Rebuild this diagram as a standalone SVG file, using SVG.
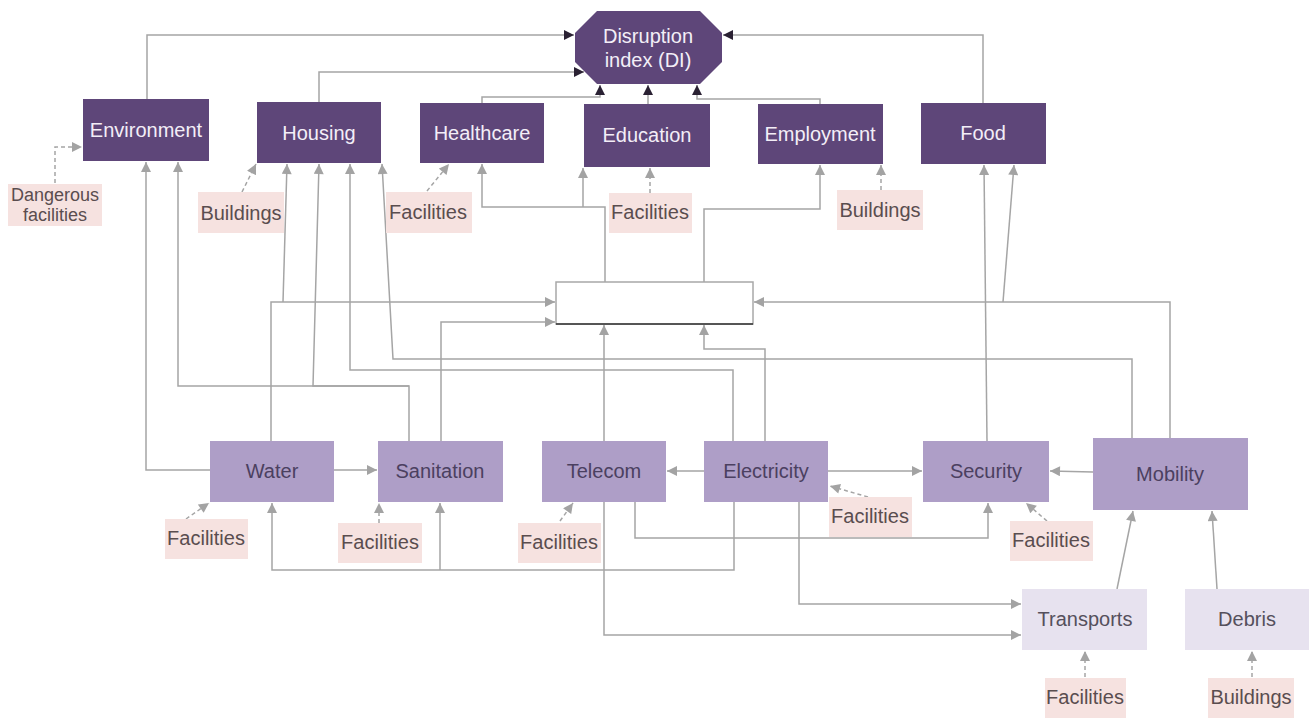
<svg xmlns="http://www.w3.org/2000/svg" width="1310" height="718" viewBox="0 0 1310 718">
<style>
text{font-family:"Liberation Sans",Arial,sans-serif;text-anchor:middle}
.dk rect,.dk polygon{fill:#5e4679}
.dk text{fill:#f3eef7;font-size:20px}
.lt rect{fill:#ae9ec7}
.lt text{fill:#4b4060;font-size:20px}
.vl rect{fill:#e7e2ef}
.vl text{fill:#55505c;font-size:20px}
.pk rect{fill:#f6e2e0}
.pk text{fill:#5a4d4f;font-size:20px}
.pk text.sm{font-size:18px}
.c path{fill:none;stroke:#a5a5a5;stroke-width:1.5}
.c path.a{marker-end:url(#ag)}
.c path.d{marker-end:url(#ad)}
.c path.s{stroke-dasharray:4 3;marker-end:url(#ag)}
</style>
<defs>
<marker id="ag" viewBox="0 0 10 10" refX="10" refY="5" markerWidth="11" markerHeight="10" markerUnits="userSpaceOnUse" orient="auto"><path d="M0,0 L10,5 L0,10 z" fill="#a3a3a3"/></marker>
<marker id="ad" viewBox="0 0 10 10" refX="10" refY="5" markerWidth="11" markerHeight="10" markerUnits="userSpaceOnUse" orient="auto"><path d="M0,0 L10,5 L0,10 z" fill="#2a2133"/></marker>
</defs>
<rect width="1310" height="718" fill="#ffffff"/>

<g id="connectors" class="c">
<path class="d" d="M147,99 V35 H574"/>
<path class="d" d="M319,102 V72 H584"/>
<path class="d" d="M482,103 V97 H600 V85"/>
<path class="d" d="M648,104 V85"/>
<path class="d" d="M820,104 V99 H697 V85"/>
<path class="d" d="M983,103 V35 H723"/>
<path class="a" d="M210,470 H146 V162"/>
<path class="a" d="M409,441 V386 H178 V162"/>
<path class="a" d="M271,441 V302 H555"/>
<path class="a" d="M283,302 L287,164"/>
<path class="a" d="M409,386 H313 L319,164"/>
<path class="a" d="M733,441 V370 H350 V164"/>
<path class="a" d="M1132,438 V359 H393 L382,164"/>
<path class="a" d="M605,282 V207 H482 V164"/>
<path class="a" d="M583,207 V168"/>
<path class="a" d="M704,282 V209 H820 V165"/>
<path class="a" d="M987,441 L984,165"/>
<path class="a" d="M1170,438 V302 H754"/>
<path class="a" d="M1003,302 L1014,165"/>
<path class="a" d="M604,441 V325"/>
<path class="a" d="M765,441 V349 H704 V325"/>
<path class="a" d="M441,441 V322 H555"/>
<path class="a" d="M334,470 H377"/>
<path class="a" d="M704,471 H667"/>
<path class="a" d="M828,471 H922"/>
<path class="a" d="M1093,472 L1050,471"/>
<path class="a" d="M734,502 V570 H272 V503"/>
<path class="a" d="M440,570 V503"/>
<path class="a" d="M635,502 V538 H988 V503"/>
<path class="a" d="M799,502 V604 H1021"/>
<path class="a" d="M604,502 V635 H1021"/>
<path class="a" d="M1117,589 L1133,511"/>
<path class="a" d="M1217,589 L1212,511"/>
<path class="s" d="M55,183 V147 H82"/>
<path class="s" d="M242,192 L256,164"/>
<path class="s" d="M427,191 L449,164"/>
<path class="s" d="M650,193 V168"/>
<path class="s" d="M881,190 V165"/>
<path class="s" d="M186,519 L209,503"/>
<path class="s" d="M379,523 V503"/>
<path class="s" d="M560,521 L573,503"/>
<path class="s" d="M868,497 L830,486"/>
<path class="s" d="M1047,521 L1026,503"/>
<path class="s" d="M1085,677 V651"/>
<path class="s" d="M1252,677 V651"/>
</g>

<g id="central">
<rect x="556" y="282" width="197" height="42" fill="#ffffff" stroke="#a8a8a8" stroke-width="1.5"/>
<line x1="556" y1="324" x2="753" y2="324" stroke="#333333" stroke-width="1.5"/>
</g>

<g id="di" class="dk">
<polygon points="597,11 700,11 722,33 722,62 700,84 597,84 575,62 575,33"/>
<text x="648" y="43">Disruption</text>
<text x="648" y="67">index (DI)</text>
</g>
<g id="environment" class="dk"><rect x="83" y="99" width="126" height="62"/><text x="146" y="137">Environment</text></g>
<g id="housing" class="dk"><rect x="257" y="102" width="124" height="61"/><text x="319" y="140">Housing</text></g>
<g id="healthcare" class="dk"><rect x="420" y="103" width="124" height="60"/><text x="482" y="140">Healthcare</text></g>
<g id="education" class="dk"><rect x="584" y="104" width="126" height="63"/><text x="647" y="142">Education</text></g>
<g id="employment" class="dk"><rect x="758" y="104" width="125" height="60"/><text x="820" y="141">Employment</text></g>
<g id="food" class="dk"><rect x="921" y="103" width="125" height="61"/><text x="983" y="140">Food</text></g>

<g id="water" class="lt"><rect x="210" y="441" width="124" height="61"/><text x="272" y="478">Water</text></g>
<g id="sanitation" class="lt"><rect x="378" y="441" width="125" height="61"/><text x="440" y="478">Sanitation</text></g>
<g id="telecom" class="lt"><rect x="542" y="441" width="124" height="61"/><text x="604" y="478">Telecom</text></g>
<g id="electricity" class="lt"><rect x="704" y="441" width="124" height="61"/><text x="766" y="478">Electricity</text></g>
<g id="security" class="lt"><rect x="923" y="441" width="126" height="61"/><text x="986" y="478">Security</text></g>
<g id="mobility" class="lt"><rect x="1093" y="438" width="155" height="72"/><text x="1170" y="481">Mobility</text></g>
<g id="transports" class="vl"><rect x="1022" y="589" width="125" height="61"/><text x="1085" y="626">Transports</text></g>
<g id="debris" class="vl"><rect x="1185" y="589" width="124" height="61"/><text x="1247" y="626">Debris</text></g>

<g id="dangerous" class="pk"><rect x="8" y="184" width="94" height="42"/><text class="sm" x="55" y="201">Dangerous</text><text class="sm" x="55" y="221">facilities</text></g>
<g id="buildings-housing" class="pk"><rect x="198" y="192" width="86" height="41"/><text x="241" y="220">Buildings</text></g>
<g id="facilities-healthcare" class="pk"><rect x="386" y="192" width="86" height="41"/><text x="428" y="219">Facilities</text></g>
<g id="facilities-education" class="pk"><rect x="609" y="193" width="83" height="40"/><text x="650" y="219">Facilities</text></g>
<g id="buildings-employment" class="pk"><rect x="837" y="190" width="86" height="40"/><text x="880" y="217">Buildings</text></g>
<g id="facilities-water" class="pk"><rect x="165" y="519" width="83" height="40"/><text x="206" y="545">Facilities</text></g>
<g id="facilities-sanitation" class="pk"><rect x="338" y="523" width="84" height="40"/><text x="380" y="549">Facilities</text></g>
<g id="facilities-telecom" class="pk"><rect x="518" y="523" width="83" height="40"/><text x="559" y="549">Facilities</text></g>
<g id="facilities-electricity" class="pk"><rect x="829" y="497" width="83" height="40"/><text x="870" y="523">Facilities</text></g>
<g id="facilities-security" class="pk"><rect x="1010" y="521" width="83" height="40"/><text x="1051" y="547">Facilities</text></g>
<g id="facilities-transports" class="pk"><rect x="1045" y="678" width="81" height="40"/><text x="1085" y="704">Facilities</text></g>
<g id="buildings-debris" class="pk"><rect x="1208" y="678" width="86" height="40"/><text x="1251" y="704">Buildings</text></g>
</svg>
